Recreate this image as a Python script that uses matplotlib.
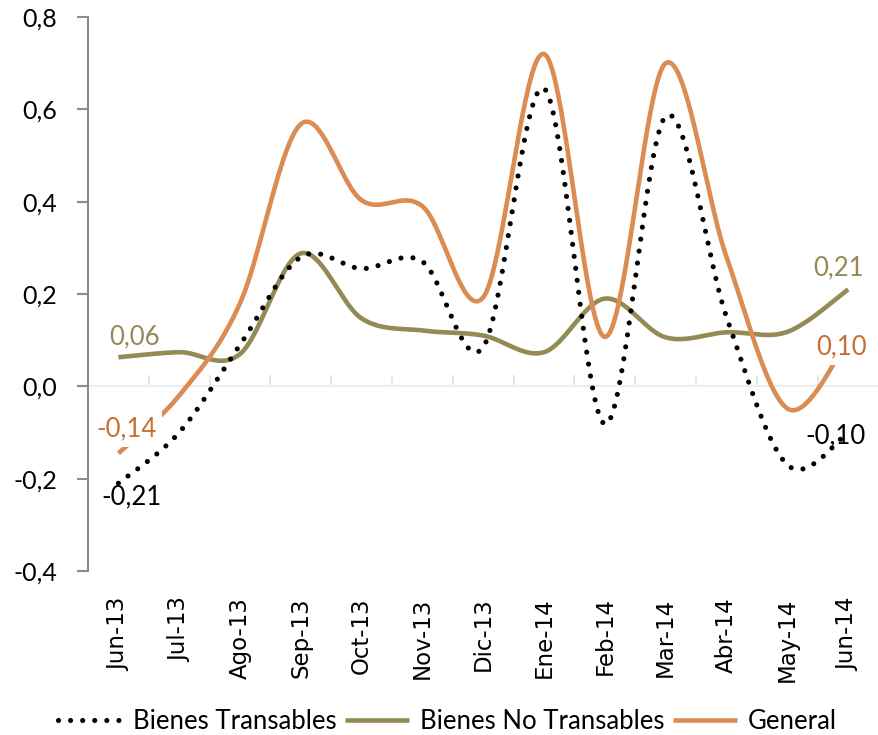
import numpy as np
import matplotlib
matplotlib.use("Agg")
import matplotlib.pyplot as plt

categories = ["Jun-13", "Jul-13", "Ago-13", "Sep-13", "Oct-13", "Nov-13", "Dic-13",
              "Ene-14", "Feb-14", "Mar-14", "Abr-14", "May-14", "Jun-14"]
transables = [-0.21, -0.10, 0.09, 0.28, 0.255, 0.27, 0.085, 0.645, -0.082, 0.585, 0.15, -0.17, -0.10]
no_transables = [0.063, 0.074, 0.07, 0.288, 0.147, 0.121, 0.11, 0.074, 0.19, 0.106, 0.117, 0.118, 0.21]
general = [-0.145, -0.02, 0.18, 0.568, 0.403, 0.39, 0.193, 0.72, 0.107, 0.70, 0.28, -0.048, 0.10]
y_ticks = [-0.4, -0.2, 0.0, 0.2, 0.4, 0.6, 0.8]

OLIVE = "#948A54"
ORANGE = "#DA8C52"
ORANGE_TXT = "#C86E32"


def smooth(vals, n=40):
    """Catmull-Rom (Excel-like) smoothing through the points."""
    x = np.arange(len(vals), dtype=float)
    y = np.asarray(vals, dtype=float)
    px = np.concatenate([[x[0]], x, [x[-1]]])
    py = np.concatenate([[y[0]], y, [y[-1]]])
    xs, ys = [], []
    t = np.linspace(0, 1, n, endpoint=False)
    for i in range(1, len(px) - 2):
        p0, p1, p2, p3 = (np.array([px[j], py[j]]) for j in (i - 1, i, i + 1, i + 2))
        c1 = p1 + (p2 - p0) / 6.0
        c2 = p2 - (p3 - p1) / 6.0
        b = ((1 - t) ** 3)[:, None] * p1 + (3 * (1 - t) ** 2 * t)[:, None] * c1 + \
            (3 * (1 - t) * t ** 2)[:, None] * c2 + (t ** 3)[:, None] * p2
        xs.append(b[:, 0]); ys.append(b[:, 1])
    xs.append([x[-1]]); ys.append([y[-1]])
    return np.concatenate(xs), np.concatenate(ys)


fig = plt.figure(figsize=(8.79, 7.35), dpi=100)
ax = fig.add_axes([88 / 879, 1 - 571 / 735, 1 - 88 / 879 - 0.0005, (571 - 17) / 735])

lw = 3.3
xg, yg = smooth(general)
ax.plot(xg, yg, color=ORANGE, lw=lw, solid_capstyle="butt", zorder=3, label="General")
xn, yn = smooth(no_transables)
ax.plot(xn, yn, color=OLIVE, lw=lw, solid_capstyle="butt", zorder=2, label="Bienes No Transables")
xt, yt = smooth(transables)
ax.plot(xt, yt, color="black", lw=3.7, linestyle=(0, (0.001, 2.35)), dash_capstyle="round",
        zorder=5, label="Bienes Transables")

ax.set_xlim(-0.5, len(categories) - 0.5)
ax.set_ylim(-0.4, 0.8)

# y axis
ax.set_yticks(y_ticks)
ax.set_yticklabels([f"{v:.1f}".replace(".", ",") for v in y_ticks], fontsize=18, family="Lato")
for s in ["top", "right", "bottom"]:
    ax.spines[s].set_visible(False)
ax.spines["left"].set_color("#8C8C8C")
ax.spines["left"].set_linewidth(1.5)
ax.tick_params(axis="y", direction="out", length=8, width=1.5, color="#8C8C8C", pad=14)

# category labels at bottom
ax.set_xticks(range(len(categories)))
ax.set_xticklabels(categories, rotation=90, fontsize=16.5, family="DejaVu Sans")
ax.tick_params(axis="x", length=0, pad=19)

# zero axis line with ticks between categories
ax.axhline(0, color="#EDEDED", lw=1.5, zorder=1)
loc0 = (0 - ax.get_ylim()[0]) / (ax.get_ylim()[1] - ax.get_ylim()[0])
sec = ax.secondary_xaxis(loc0)
sec.spines["bottom"].set_visible(False)
sec.set_xticks(np.arange(0.5, len(categories) - 0.5, 1.0))
sec.set_xticklabels([])
sec.tick_params(axis="x", direction="in", length=8, width=1.2, color="#E2E2E2")

# data labels
def lab(x, y, txt, color, dx, dy, box=False):
    kw = dict(fontsize=18.5, family="Lato", color=color, ha="center", va="center",
              textcoords="offset pixels", zorder=4)
    if box:
        kw["bbox"] = dict(boxstyle="square,pad=0.2", fc="white", ec="none")
    ax.annotate(txt, (x, y), xytext=(dx, dy), **kw)

fmt = lambda v: f"{v:.2f}".replace(".", ",")
n = len(categories) - 1
lab(0, no_transables[0], fmt(0.06), OLIVE, 16, 20)
lab(0, general[0], fmt(-0.14), ORANGE_TXT, 8, 24, box=True)
lab(0, transables[0], fmt(-0.21), "black", 13, -14)
lab(n, no_transables[n], fmt(0.21), OLIVE, -10, 22)
lab(n, general[n], fmt(0.10), ORANGE_TXT, -7, -7, box=True)
lab(n, transables[n], fmt(-0.10), "black", -13, -3)

# legend
handles, labels = ax.get_legend_handles_labels()
order = [2, 1, 0]
leg = fig.legend([handles[i] for i in order], [labels[i] for i in order],
                 loc="center", bbox_to_anchor=(0.509, 0.019), ncol=3, frameon=False,
                 prop=dict(family="Lato", size=18.5), handlelength=2.5, handletextpad=0.4,
                 columnspacing=0.35, borderaxespad=0)

fig.savefig("out.png", dpi=100)
